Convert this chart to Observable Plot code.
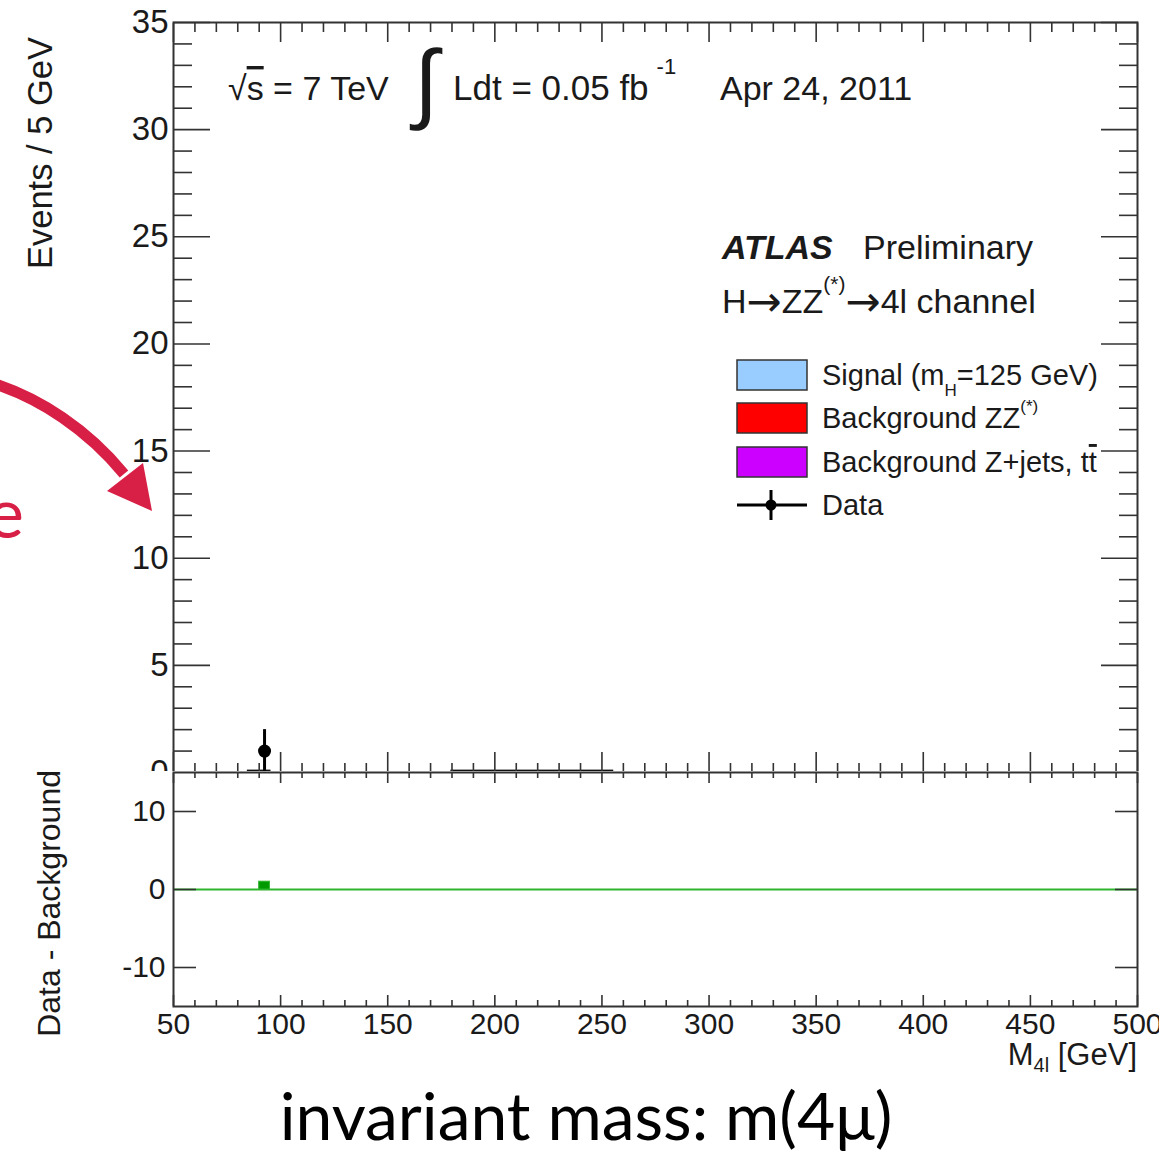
<!DOCTYPE html>
<html><head><meta charset="utf-8">
<script src="https://cdn.jsdelivr.net/npm/d3@7"></script>
<script src="https://cdn.jsdelivr.net/npm/@observablehq/plot@0.6"></script>
<style>
html,body{margin:0;padding:0;background:#fff;}
#root{position:relative;width:1159px;height:1156px;overflow:hidden;background:#fff;}
#root > svg{position:absolute;left:0;}
</style></head><body><div id="root"></div>
<script>
// ---------------- data ----------------
const massDomain = [50, 500];          // M4l [GeV]
const eventsDomain = [0, 35];          // Events / 5 GeV
const diffDomain = [-15, 15];          // Data - Background
const xMajorTicks = [50, 100, 150, 200, 250, 300, 350, 400, 450, 500];
const xMinorTicks = d3.range(50, 501, 10).filter(v => v % 50 !== 0);
const yMajorTicks = [0, 5, 10, 15, 20, 25, 30, 35];
const yMinorTicks = d3.range(0, 36, 1).filter(v => v % 5 !== 0);
const diffTicks = [-10, 0, 10];

// data points (observed events)
const dataMass = [92.5];
const dataEvents = [1];
const dataErrLow = [0];
const dataErrHigh = [2];

// background histogram (tiny expected yields)
const bkgBinLow = [85, 180];
const bkgBinHigh = [95, 255];
const bkgYield = [0.06, 0.06];

// data - background
const diffBinLow = [90];
const diffBinHigh = [95];
const diffValue = [1];

// legend entries
const legendLabels = ["Signal (m", "Background ZZ", "Background Z+jets, t", "Data"];
const legendColors = ["#99ccff", "#ff0000", "#cc00ff"];

// ---------------- build tables ----------------
const dataRows = dataMass.map((m, i) => ({m, n: dataEvents[i], lo: dataErrLow[i], hi: dataErrHigh[i]}));
const bkgRows = bkgBinLow.map((lo, i) => ({lo, hi: bkgBinHigh[i], v: bkgYield[i]}));
const diffRows = diffBinLow.map((lo, i) => ({lo, hi: diffBinHigh[i], v: diffValue[i]}));

const FONT = "'Liberation Sans', Arial, sans-serif";
const TICK = "#333";
const TW = 1.6;
const TXT = "#1a1a1a";
const noText = () => "";
const plain = d => String(d);

// ---------------- upper panel ----------------
const upper = Plot.plot({
  width: 1159, height: 790,
  marginLeft: 173, marginRight: 22, marginTop: 22, marginBottom: 18,
  x: {domain: massDomain},
  y: {domain: eventsDomain},
  style: {fontFamily: FONT, overflow: "visible", background: "transparent"},
  marks: [
    Plot.rect(bkgRows, {x1: "lo", x2: "hi", y1: 0, y2: "v", fill: "#ff0000", stroke: "#111", strokeWidth: 2.2}),
    Plot.ruleX(dataRows, {x: "m", y1: "lo", y2: "hi", stroke: "#000", strokeWidth: 3}),
    Plot.dot(dataRows, {x: "m", y: "n", r: 6.5, fill: "#000", stroke: "none"}),
    // inward ticks
    Plot.axisY(yMajorTicks, {anchor: "left", tickSize: -37, tickFormat: noText, label: null, stroke: TICK, strokeWidth: TW}),
    Plot.axisY(yMinorTicks, {anchor: "left", tickSize: -19, tickFormat: noText, label: null, stroke: TICK, strokeWidth: TW}),
    Plot.axisY(yMajorTicks, {anchor: "right", tickSize: -37, tickFormat: noText, label: null, stroke: TICK, strokeWidth: TW}),
    Plot.axisY(yMinorTicks, {anchor: "right", tickSize: -19, tickFormat: noText, label: null, stroke: TICK, strokeWidth: TW}),
    Plot.axisX(xMajorTicks, {anchor: "top", tickSize: -19, tickFormat: noText, label: null, stroke: TICK, strokeWidth: TW}),
    Plot.axisX(xMinorTicks, {anchor: "top", tickSize: -9, tickFormat: noText, label: null, stroke: TICK, strokeWidth: TW}),
    Plot.axisX(xMajorTicks, {anchor: "bottom", tickSize: -20, tickFormat: noText, label: null, stroke: TICK, strokeWidth: TW}),
    Plot.axisX(xMinorTicks, {anchor: "bottom", tickSize: -9, tickFormat: noText, label: null, stroke: TICK, strokeWidth: TW}),
    // labels
    Plot.axisY(yMajorTicks, {anchor: "left", tickSize: 0, tickPadding: 5, tickFormat: plain, fontSize: 33, fill: TXT, label: null}),
    Plot.frame({stroke: TICK, strokeWidth: 2})
  ]
});
upper.style.top = "0px";

// ---------------- lower panel ----------------
const lower = Plot.plot({
  width: 1159, height: 301,
  marginLeft: 173, marginRight: 22, marginTop: 1, marginBottom: 66,
  x: {domain: massDomain},
  y: {domain: diffDomain},
  style: {fontFamily: FONT, overflow: "visible", background: "#fff"},
  marks: [
    Plot.ruleY([0], {stroke: "#2db52d", strokeWidth: 2}),
    Plot.rect(diffRows, {x1: "lo", x2: "hi", y1: 0, y2: "v", fill: "#009a00", stroke: "#2db52d", strokeWidth: 1}),
    Plot.axisY(diffTicks, {anchor: "left", tickSize: -23, tickFormat: noText, label: null, stroke: TICK, strokeWidth: TW}),
    Plot.axisY(diffTicks, {anchor: "right", tickSize: -23, tickFormat: noText, label: null, stroke: TICK, strokeWidth: TW}),
    Plot.axisX(xMajorTicks, {anchor: "top", tickSize: -10, tickFormat: noText, label: null, stroke: TICK, strokeWidth: TW}),
    Plot.axisX(xMinorTicks, {anchor: "top", tickSize: -5, tickFormat: noText, label: null, stroke: TICK, strokeWidth: TW}),
    Plot.axisX(xMajorTicks, {anchor: "bottom", tickSize: -11, tickFormat: noText, label: null, stroke: TICK, strokeWidth: TW}),
    Plot.axisX(xMinorTicks, {anchor: "bottom", tickSize: -6, tickFormat: noText, label: null, stroke: TICK, strokeWidth: TW}),
    Plot.axisY(diffTicks, {anchor: "left", tickSize: 0, tickPadding: 8, tickFormat: plain, fontSize: 30, fill: TXT, label: null}),
    Plot.axisX(xMajorTicks, {anchor: "bottom", tickSize: 0, tickPadding: 6, tickFormat: plain, fontSize: 30, fill: TXT, label: null}),
    Plot.frame({stroke: TICK, strokeWidth: 2})
  ]
});
lower.style.top = "771px";

const root = document.getElementById("root");
root.appendChild(upper);
root.appendChild(lower);

// ---------------- annotations / legend overlay ----------------
const NS = "http://www.w3.org/2000/svg";
const ov = d3.create("svg").attr("xmlns", NS).attr("width", 1159).attr("height", 1156)
  .style("position", "absolute").style("left", "0px").style("top", "0px").style("pointer-events", "none")
  .attr("font-family", FONT).attr("fill", TXT);

// axis titles
ov.append("text").attr("transform", "translate(52,37) rotate(-90)").attr("text-anchor", "end")
  .attr("font-size", 34.5).text("Events / 5 GeV");
ov.append("text").attr("transform", "translate(60,770) rotate(-90)").attr("text-anchor", "end")
  .attr("font-size", 32).text("Data - Background");
const xt = ov.append("text").attr("x", 1137).attr("y", 1065).attr("text-anchor", "end").attr("font-size", 31);
xt.append("tspan").text("M");
xt.append("tspan").attr("font-size", 20).attr("dy", 7).text("4l");
xt.append("tspan").attr("dy", -7).text(" [GeV]");

// header line
const s1 = ov.append("text").attr("x", 228).attr("y", 100).attr("font-size", 34);
s1.append("tspan").text("√");
s1.append("tspan").attr("text-decoration", "overline").text("s");
s1.append("tspan").text(" = 7 TeV");
ov.append("text").attr("x", 414).attr("y", 112).attr("font-size", 88).attr("font-family", "'DejaVu Sans', sans-serif")
  .attr("font-weight", 300).text("∫");
const s2 = ov.append("text").attr("x", 453).attr("y", 100).attr("font-size", 35);
s2.append("tspan").text("Ldt = 0.05 fb");
s2.append("tspan").attr("font-size", 22).attr("dx", 8).attr("dy", -26).text("-1");
ov.append("text").attr("x", 720).attr("y", 100).attr("font-size", 34).text("Apr 24, 2011");

ov.append("text").attr("x", 722).attr("y", 259).attr("font-size", 34).attr("font-weight", "bold").attr("font-style", "italic").text("ATLAS");
ov.append("text").attr("x", 863).attr("y", 259).attr("font-size", 34).text("Preliminary");
const s3 = ov.append("text").attr("x", 722).attr("y", 313).attr("font-size", 34);
s3.append("tspan").text("H");
s3.append("tspan").attr("font-family", "'DejaVu Sans', sans-serif").attr("font-size", 42).attr("dy", 3).text("→");
s3.append("tspan").attr("dy", -3).text("ZZ");
s3.append("tspan").attr("font-size", 21).attr("dy", -22).text("(*)");
s3.append("tspan").attr("dy", 25).attr("font-family", "'DejaVu Sans', sans-serif").attr("font-size", 42).text("→");
s3.append("tspan").attr("dy", -3).text("4l channel");

// legend
const rowY = [375, 418, 462, 505];
legendColors.forEach((c, i) => {
  ov.append("rect").attr("x", 737).attr("y", rowY[i] - 15).attr("width", 70).attr("height", 30)
    .attr("fill", c).attr("stroke", "#333").attr("stroke-width", 1.5);
});
ov.append("line").attr("x1", 737).attr("x2", 807).attr("y1", rowY[3]).attr("y2", rowY[3]).attr("stroke", "#000").attr("stroke-width", 3);
ov.append("line").attr("x1", 771).attr("x2", 771).attr("y1", rowY[3] - 15).attr("y2", rowY[3] + 15).attr("stroke", "#000").attr("stroke-width", 3);
ov.append("circle").attr("cx", 771).attr("cy", rowY[3]).attr("r", 5.5).attr("fill", "#000");

const L0 = ov.append("text").attr("x", 822).attr("y", rowY[0] + 10).attr("font-size", 29);
L0.append("tspan").text(legendLabels[0]);
L0.append("tspan").attr("font-size", 17).attr("dy", 11).text("H");
L0.append("tspan").attr("dy", -11).text("=125 GeV)");
const L1 = ov.append("text").attr("x", 822).attr("y", rowY[1] + 10).attr("font-size", 29);
L1.append("tspan").text(legendLabels[1]);
L1.append("tspan").attr("font-size", 17).attr("dy", -16).text("(*)");
const L2 = ov.append("text").attr("x", 822).attr("y", rowY[2] + 10).attr("font-size", 29);
L2.append("tspan").text(legendLabels[2]);
L2.append("tspan").attr("text-decoration", "overline").text("t");
ov.append("text").attr("x", 822).attr("y", rowY[3] + 10).attr("font-size", 29).text(legendLabels[3]);

// slide decoration: red arrow and clipped word
const RED = "#d81f45";
ov.append("path").attr("d", "M-8,383 C40,398 88,430 124,474").attr("fill", "none").attr("stroke", RED).attr("stroke-width", 11);
ov.append("path").attr("d", "M152,511 L107,491 L143,463 Z").attr("fill", RED);
ov.append("text").attr("x", 24).attr("y", 538).attr("text-anchor", "end").attr("font-family", "Lato, sans-serif")
  .attr("font-size", 70).attr("fill", RED).text("e");

// caption
ov.append("text").attr("x", 586).attr("y", 1140).attr("text-anchor", "middle").attr("font-family", "Lato, sans-serif")
  .attr("font-size", 66).attr("fill", "#000").text("invariant mass: m(4μ)");

root.appendChild(ov.node());
</script></body></html>
